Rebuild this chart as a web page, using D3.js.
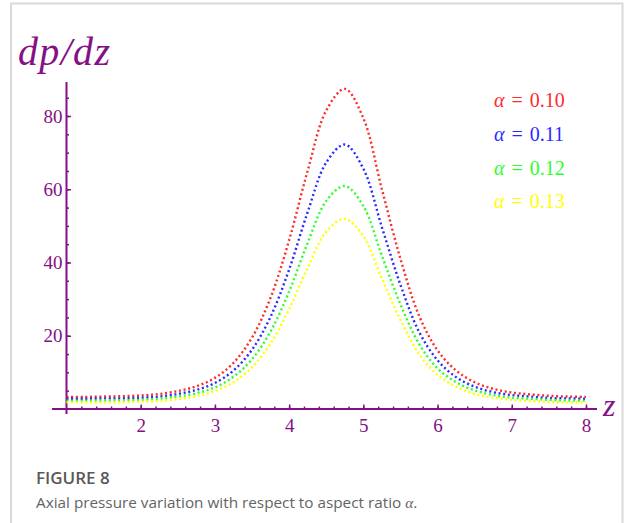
<!DOCTYPE html>
<html>
<head>
<meta charset="utf-8">
<script src="https://cdn.jsdelivr.net/npm/d3@7"></script>
<style>
  body { margin: 0; background: #fff; }
  svg { display: block; }
</style>
</head>
<body>
<script>
// canvas size
var w = 624;
var h = 523;

// plot area magic numbers
var xLeft = 66.5, xRight = 586;
var yZero = 409, yTop80 = 116;
var purple = "#850f85";

// data, z from 1 to 8 every 0.25
var zValues = [1, 1.25, 1.5, 1.75, 2, 2.25, 2.5, 2.75, 3, 3.25, 3.5, 3.75, 4, 4.25, 4.5,
               4.75, 5, 5.25, 5.5, 5.75, 6, 6.25, 6.5, 6.75, 7, 7.25, 7.5, 7.75, 8];
var alpha010 = [3.3, 3.3, 3.4, 3.5, 3.7, 4.1, 4.9, 6.2, 8.5, 12.6, 19.5, 30.4, 46.1, 65.1, 81.5,
                87.4, 79.4, 60.0, 41.0, 25.5, 16.0, 10.5, 7.3, 5.5, 4.5, 4.0, 3.6, 3.4, 3.3];
var alpha011 = [2.8, 2.8, 2.9, 2.9, 3.1, 3.4, 4.1, 5.2, 7.1, 10.5, 16.2, 25.2, 38.1, 53.8, 67.3,
                72.2, 65.6, 49.6, 33.9, 21.1, 13.3, 8.7, 6.1, 4.6, 3.8, 3.4, 3.0, 2.9, 2.8];
var alpha012 = [2.3, 2.3, 2.3, 2.4, 2.5, 2.8, 3.4, 4.3, 5.9, 8.8, 13.6, 21.2, 32.1, 45.4, 56.8,
                60.9, 55.4, 41.8, 28.6, 17.8, 11.1, 7.3, 5.1, 3.8, 3.1, 2.8, 2.5, 2.3, 2.3];
var alpha013 = [1.8, 1.8, 1.8, 1.9, 2.0, 2.2, 2.7, 3.5, 4.9, 7.3, 11.4, 17.9, 27.3, 38.6, 48.4,
                51.9, 47.2, 35.6, 24.3, 15.0, 9.3, 6.1, 4.1, 3.1, 2.5, 2.2, 1.9, 1.8, 1.8];

var seriesLabels = ["0.10", "0.11", "0.12", "0.13"];
var seriesColors = ["#ff2a2a", "#2a2aff", "#2aff2a", "#ffff00"];
var seriesValues = [alpha010, alpha011, alpha012, alpha013];

var xTicks = [2, 3, 4, 5, 6, 7, 8];
var yTicks = [20, 40, 60, 80];

var svg = d3.select("body")
            .append("svg")
            .attr("width", w)
            .attr("height", h);

// light grey frame round the figure
svg.append("path")
   .attr("d", "M11,523 V3.5 H622.5 V523")
   .attr("fill", "none")
   .attr("stroke", "#d9d9d9")
   .attr("stroke-width", 2);

var x = d3.scaleLinear().domain([1, 8]).range([xLeft, xRight]);
var y = d3.scaleLinear().domain([0, 80]).range([yZero, yTop80]);

// minor ticks
svg.append("g")
   .attr("transform", "translate(0," + yZero + ")")
   .call(d3.axisBottom(x).tickValues(d3.range(1.2, 8.01, 0.2)).tickSizeInner(-2.5).tickSizeOuter(0).tickFormat(""))
   .call(function(g) { g.select(".domain").remove(); })
   .selectAll("line").attr("stroke", purple).attr("stroke-width", 1.3);

svg.append("g")
   .attr("transform", "translate(" + xLeft + ",0)")
   .call(d3.axisLeft(y).tickValues(d3.range(5, 90, 5)).tickSizeInner(-2.5).tickSizeOuter(0).tickFormat(""))
   .call(function(g) { g.select(".domain").remove(); })
   .selectAll("line").attr("stroke", purple).attr("stroke-width", 1.3);

// major ticks + labels
var xAxis = svg.append("g")
   .attr("transform", "translate(0," + yZero + ")")
   .call(d3.axisBottom(x).tickValues(xTicks).tickFormat(d3.format("d"))
           .tickSizeInner(-4.5).tickSizeOuter(0).tickPadding(10));
xAxis.select(".domain").remove();

var yAxis = svg.append("g")
   .attr("transform", "translate(" + xLeft + ",0)")
   .call(d3.axisLeft(y).tickValues(yTicks).tickFormat(d3.format("d"))
           .tickSizeInner(-4.5).tickSizeOuter(0).tickPadding(4));
yAxis.select(".domain").remove();

svg.selectAll(".tick line").attr("stroke", purple).attr("stroke-width", 1.5);
svg.selectAll(".tick text")
   .attr("fill", purple)
   .attr("font-family", "'Liberation Serif', 'Times New Roman', serif")
   .attr("font-size", 19);

// axis lines
svg.append("line")
   .attr("x1", 52).attr("x2", 597)
   .attr("y1", yZero).attr("y2", yZero)
   .attr("stroke", purple).attr("stroke-width", 2);
svg.append("line")
   .attr("x1", xLeft).attr("x2", xLeft)
   .attr("y1", 82).attr("y2", yZero + 5)
   .attr("stroke", purple).attr("stroke-width", 2);

// axis labels
svg.append("text")
   .attr("x", 18).attr("y", 65)
   .attr("fill", purple)
   .attr("font-family", "'Liberation Serif', 'Times New Roman', serif")
   .attr("font-style", "italic")
   .attr("font-size", 40)
   .attr("textLength", 92)
   .attr("lengthAdjust", "spacing")
   .text("dp/dz");

svg.append("text")
   .attr("x", 603).attr("y", 416)
   .attr("fill", purple)
   .attr("font-family", "'Liberation Serif', 'Times New Roman', serif")
   .attr("font-style", "italic")
   .attr("font-size", 32)
   .text("z");

// dotted curves
var line = d3.line()
    .x(function(d) { return x(d[0]); })
    .y(function(d) { return y(d[1]); })
    .curve(d3.curveCatmullRom);

seriesValues.forEach(function(vals, i) {
    svg.append("path")
       .datum(zValues.map(function(z, j) { return [z, vals[j]]; }))
       .attr("d", line)
       .attr("fill", "none")
       .attr("stroke", seriesColors[i])
       .attr("stroke-width", 2.4)
       .attr("stroke-dasharray", "2,2.7");
});

// legend
var legendY = [107, 141, 175, 208];
seriesLabels.forEach(function(lab, i) {
    var t = svg.append("text")
       .attr("x", 494).attr("y", legendY[i])
       .attr("fill", seriesColors[i])
       .attr("font-family", "'Liberation Serif', 'Times New Roman', serif")
       .attr("font-size", 20)
       .attr("word-spacing", 2);
    t.append("tspan").attr("font-style", "italic").text("\u03b1");
    t.append("tspan").text(" = " + lab);
});

// caption
svg.append("text")
   .attr("x", 36).attr("y", 484)
   .attr("fill", "#595959")
   .attr("font-family", "'Open Sans', sans-serif")
   .attr("font-weight", 600)
   .attr("font-size", 17)
   .text("FIGURE 8");

var cap = svg.append("text")
   .attr("x", 36).attr("y", 508)
   .attr("fill", "#636363")
   .attr("font-family", "'Open Sans', sans-serif")
   .attr("font-weight", 400)
   .attr("font-size", 15.3);
cap.append("tspan").text("Axial pressure variation with respect to aspect ratio ");
cap.append("tspan").attr("font-family", "'Liberation Serif', serif").attr("font-style", "italic").text("\u03b1");
cap.append("tspan").text(".");
</script>
</body>
</html>
